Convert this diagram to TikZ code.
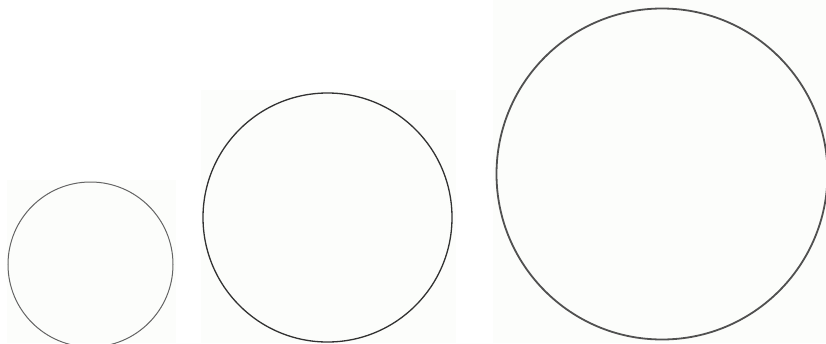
\documentclass[tikz,border=0pt]{standalone}
\definecolor{panel}{RGB}{252,253,251}
\definecolor{ringA}{RGB}{100,100,100}
\definecolor{ringB}{RGB}{50,50,50}
\definecolor{ringC}{RGB}{80,80,80}
\tikzset{
  panelbox/.style={fill=panel, draw=none},
  ring/.style={draw, fill=none}
}
\begin{document}
\begin{tikzpicture}[x=1pt, y=-1pt]
  \useasboundingbox (0,0) rectangle (826,343);
  \clip (0,0) rectangle (826,343);
  \fill[white] (0,0) rectangle (826,343);
  % panels
  \path[panelbox] (7,180) rectangle (176,343);
  \path[panelbox] (201,90) rectangle (456,343);
  \path[panelbox] (493,0) rectangle (826,343);
  % circles
  \node[ring, draw=ringA, line width=1pt, circle, minimum size=165pt, inner sep=0pt] (c1) at (90.5,264.5) {};
  \node[ring, draw=ringB, line width=1.3pt, circle, minimum size=249pt, inner sep=0pt] (c2) at (327.5,217.5) {};
  \node[ring, draw=ringC, line width=1.8pt, circle, minimum size=331pt, inner sep=0pt] (c3) at (662,174) {};
\end{tikzpicture}
\end{document}
